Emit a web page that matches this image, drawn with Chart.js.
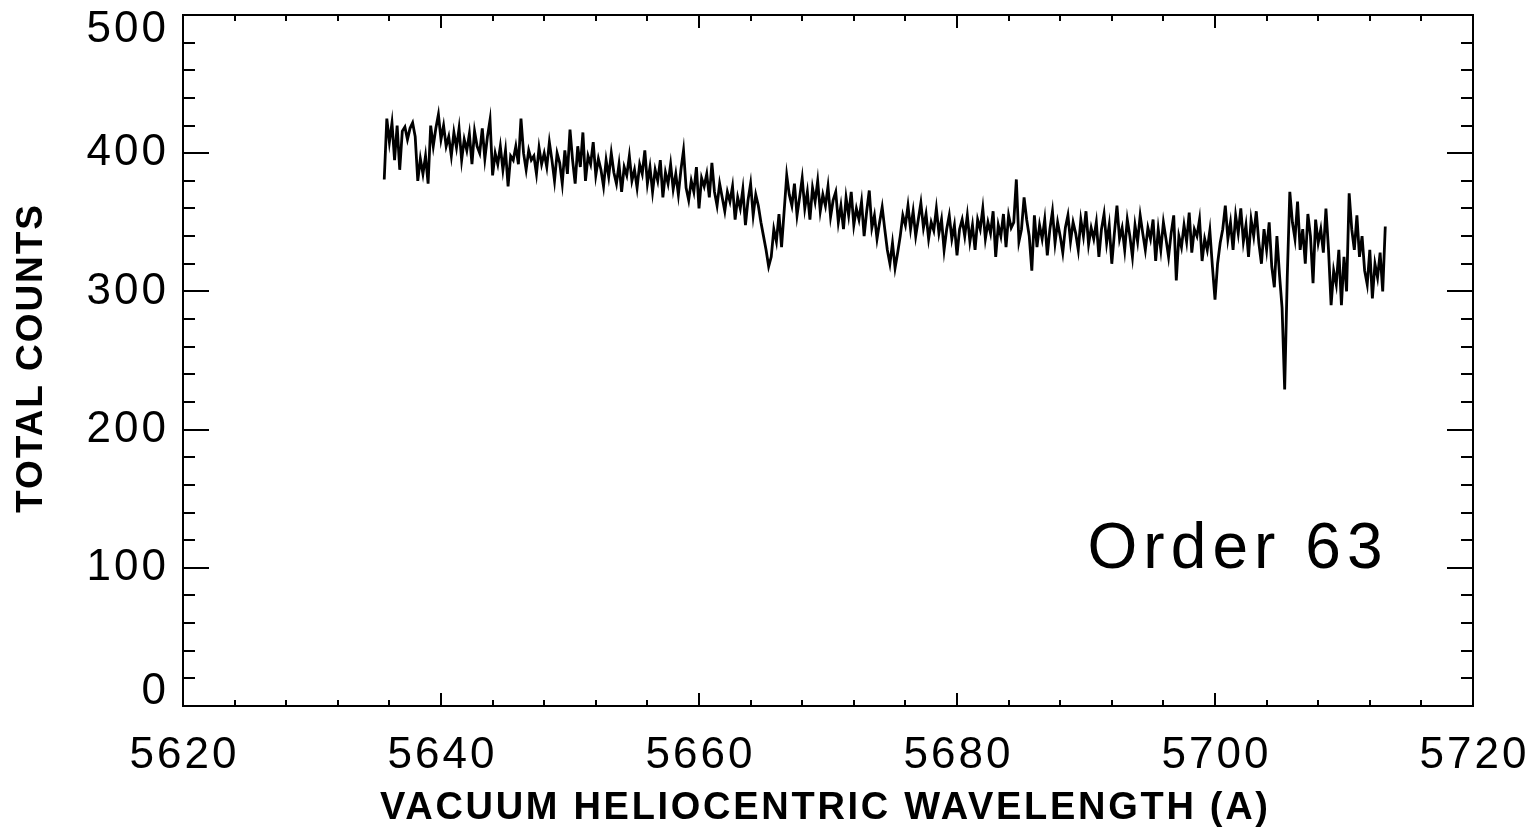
<!DOCTYPE html>
<html>
<head>
<meta charset="utf-8">
<title>Order 63</title>
<script src="https://cdn.jsdelivr.net/npm/chart.js@4.4.0/dist/chart.umd.min.js"></script>
<style>
  html, body { margin: 0; padding: 0; background: #fff; }
  canvas { display: block; }
</style>
</head>
<body>
<canvas id="spectrumChart" width="1532" height="835"></canvas>
<script>
// wavelength grid of the extracted order (Angstrom)
const waveStart = 5635.6;
const waveStep = 0.2;

// total counts per pixel, 25 samples per 5 A
const counts = [
    381, 425, 408, 422, 395, 420, 388, 416, 419, 410, 418, 422, 412, 380, 396, 385, 398, 378, 420, 405, 418, 428, 410, 420, 405,
    412, 398, 415, 404, 418, 395, 410, 402, 414, 392, 416, 405, 400, 418, 396, 412, 424, 384, 400, 392, 405, 388, 402, 376, 398,
    395, 405, 392, 425, 400, 388, 402, 395, 398, 385, 404, 392, 400, 390, 408, 395, 380, 400, 393, 378, 402, 385, 417, 395, 378,
    405, 390, 415, 380, 398, 392, 408, 384, 396, 388, 376, 395, 383, 400, 386, 378, 392, 372, 390, 384, 398, 380, 388, 375, 392,
    385, 402, 378, 390, 372, 388, 380, 395, 368, 386, 378, 392, 374, 385, 370, 388, 402, 375, 366, 380, 372, 390, 360, 382, 376,
    385, 368, 393, 372, 362, 378, 368, 358, 372, 365, 376, 352, 368, 360, 374, 348, 366, 378, 355, 370, 362, 350, 340, 330, 318,
    325, 345, 336, 356, 332, 358, 384, 370, 362, 378, 355, 368, 382, 360, 372, 352, 375, 365, 380, 358, 370, 362, 376, 354, 366,
    372, 350, 362, 345, 368, 355, 372, 348, 360, 352, 365, 340, 358, 373, 346, 355, 338, 350, 361, 345, 330, 320, 335, 317, 328,
    340, 355, 348, 362, 345, 358, 340, 352, 364, 346, 356, 338, 350, 344, 360, 342, 352, 330, 345, 355, 338, 348, 326, 345, 352,
    340, 355, 336, 348, 330, 352, 345, 360, 338, 350, 342, 358, 325, 348, 340, 356, 332, 355, 346, 350, 381, 336, 345, 368, 352,
    340, 315, 355, 332, 348, 338, 352, 326, 345, 358, 335, 350, 340, 328, 346, 355, 336, 350, 342, 330, 352, 340, 358, 334, 346,
    338, 350, 325, 345, 356, 335, 348, 320, 342, 362, 338, 346, 330, 352, 340, 325, 348, 336, 355, 342, 330, 346, 338, 352, 322,
    345, 330, 350, 338, 325, 342, 355, 308, 340, 332, 348, 336, 357, 328, 345, 340, 352, 322, 338, 330, 344, 318, 294, 320, 335,
    345, 362, 338, 350, 330, 355, 342, 360, 336, 348, 325, 352, 340, 358, 335, 320, 345, 330, 350, 318, 303, 340, 312, 288, 229,
    310, 372, 350, 338, 365, 330, 345, 320, 356, 340, 306, 352, 335, 345, 328, 360, 330, 290, 315, 305, 330, 290, 325, 300, 371,
    345, 330, 355, 325, 340, 315, 305, 330, 295, 320, 310, 328, 300, 347
];

const xMajorTicks = [5620, 5640, 5660, 5680, 5700, 5720];
const yMajorTicks = [0, 100, 200, 300, 400, 500];
const xMinorStep = 4;
const yMinorStep = 20;

const xTitle = 'VACUUM HELIOCENTRIC WAVELENGTH (A)';
const yTitle = 'TOTAL COUNTS';
const orderLabel = 'Order 63';

const points = counts.map((c, i) => ({ x: waveStart + i * waveStep, y: c }));

// width of a string once a fixed gap is put between its letters
function spacedWidth(ctx, text, gap) {
    ctx.letterSpacing = '0px';
    return ctx.measureText(text).width + gap * (text.length - 1);
}

// draw text starting at x with a fixed gap between letters
function drawWithGap(ctx, text, x, y, gap) {
    ctx.letterSpacing = gap + 'px';
    ctx.textAlign = 'left';
    ctx.fillText(text, x, y);
    ctx.letterSpacing = '0px';
}

// draw text stretched to a given width by spreading the letters
function drawSpaced(ctx, text, cx, cy, width) {
    ctx.letterSpacing = '0px';
    const w = ctx.measureText(text).width;
    const gap = (width - w) / (text.length - 1);
    drawWithGap(ctx, text, cx - width / 2, cy, gap);
}

// IDL style box: frame, inward ticks on all four sides, labels and titles
const idlFrame = {
    id: 'idlFrame',
    afterDraw(chart) {
        const ctx = chart.ctx;
        const area = chart.chartArea;
        const xs = chart.scales.x;
        const ys = chart.scales.y;

        ctx.save();
        ctx.strokeStyle = '#000';
        ctx.fillStyle = '#000';
        ctx.lineWidth = 2;
        ctx.strokeRect(area.left, area.top, area.right - area.left, area.bottom - area.top);

        ctx.beginPath();
        for (let v = xs.min; v <= xs.max; v += xMinorStep) {
            const px = Math.round(xs.getPixelForValue(v));
            const len = xMajorTicks.includes(v) ? 13 : 6;
            ctx.moveTo(px, area.bottom);
            ctx.lineTo(px, area.bottom - len);
            ctx.moveTo(px, area.top);
            ctx.lineTo(px, area.top + len);
        }
        for (let v = ys.min; v <= ys.max; v += yMinorStep) {
            const py = Math.round(ys.getPixelForValue(v));
            const len = yMajorTicks.includes(v) ? 26 : 12;
            ctx.moveTo(area.left, py);
            ctx.lineTo(area.left + len, py);
            ctx.moveTo(area.right, py);
            ctx.lineTo(area.right - len, py);
        }
        ctx.stroke();

        // tick labels
        const labelGap = 3;
        ctx.font = '44px "Liberation Sans"';
        ctx.textBaseline = 'middle';
        xMajorTicks.forEach(v => {
            const s = String(v);
            const w = spacedWidth(ctx, s, labelGap);
            drawWithGap(ctx, s, xs.getPixelForValue(v) - w / 2, 756, labelGap);
        });
        yMajorTicks.forEach(v => {
            const s = String(v);
            const py = ys.getPixelForValue(v);
            const y = Math.min(Math.max(py, area.top + 15), area.bottom - 14);
            const w = spacedWidth(ctx, s, labelGap);
            drawWithGap(ctx, s, 166 - w, y, labelGap);
        });

        // axis titles
        ctx.font = 'bold 38px "Liberation Sans"';
        drawSpaced(ctx, xTitle, 824, 809, 888);

        ctx.save();
        ctx.translate(32, 359);
        ctx.rotate(-Math.PI / 2);
        ctx.font = 'bold 37px "Liberation Sans"';
        drawSpaced(ctx, yTitle, 0, 0, 308);
        ctx.restore();

        ctx.font = '64px "Liberation Sans"';
        drawSpaced(ctx, orderLabel, 1235, 550, 295);

        ctx.restore();
    }
};

const ctx = document.getElementById('spectrumChart').getContext('2d');
const spectrumChart = new Chart(ctx, {
    type: 'line',
    data: {
        datasets: [{
            data: points,
            borderColor: '#000',
            borderWidth: 2.8,
            pointRadius: 0,
            tension: 0,
            fill: false
        }]
    },
    options: {
        responsive: false,
        animation: false,
        events: [],
        layout: {
            padding: { left: 183, top: 15, right: 59, bottom: 129 }
        },
        plugins: {
            legend: { display: false },
            tooltip: { enabled: false }
        },
        scales: {
            x: { type: 'linear', min: 5620, max: 5720, display: false },
            y: { min: 0, max: 500, display: false }
        }
    },
    plugins: [idlFrame]
});
</script>
</body>
</html>
